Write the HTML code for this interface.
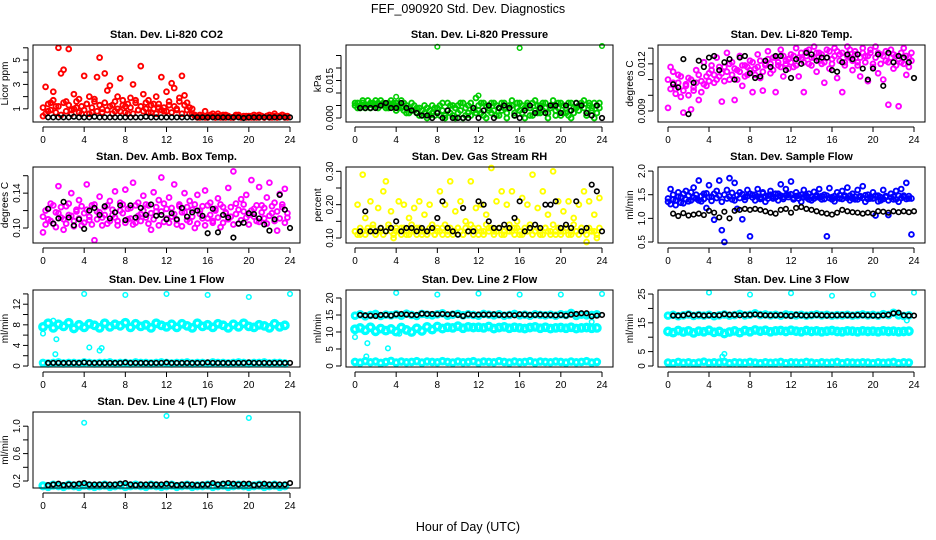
<!DOCTYPE html>
<html><head><meta charset="utf-8"><style>
html,body{margin:0;padding:0;background:#fff;}
svg{display:block;font-family:"Liberation Sans",sans-serif;}
</style></head><body>
<svg id="chart" width="936" height="540" viewBox="0 0 936 540" xmlns="http://www.w3.org/2000/svg">
<rect x="0" y="0" width="936" height="540" fill="#fff"/>
<text x="468" y="13" text-anchor="middle" font-size="12.5">FEF_090920  Std. Dev. Diagnostics</text>
<text x="468" y="531" text-anchor="middle" font-size="12.5">Hour of Day (UTC)</text>
</svg>
<script>
const hoursQuarter = Array.from({length:96},(_,i)=>i*0.25);
const hoursHalf = Array.from({length:48},(_,i)=>i*0.5+0.5);
const hoursBand = Array.from({length:48},(_,i)=>i*0.5);
const xTicks = [0,4,8,12,16,20,24];

const co2Main = [0.4,2.8,0.8,1.5,2.4,1.2,6.0,3.9,4.2,1.6,5.9,0.9,2.2,1.1,1.8,0.6,3.7,1.4,2.0,0.7,1.6,3.6,5.2,1.0,3.9,2.5,2.9,1.3,0.8,2.0,3.5,1.7,1.2,0.6,1.9,3.0,1.5,0.9,4.5,2.2,1.0,1.7,0.7,1.4,2.0,1.1,3.6,0.8,2.4,1.3,3.1,2.7,0.9,1.6,3.7,2.1,1.5,0.6,1.0,0.4,0.3,0.5,0.4,0.8,0.3,0.4,0.6,0.3,0.4,0.3,0.5,0.3,0.4,0.3,0.3,0.5,0.4,0.3,0.3,0.4,0.3,0.4,0.3,0.3,0.5,0.4,0.3,0.4,0.3,0.4,0.6,0.3,0.4,0.5,0.4,0.3];
const co2Extra = [1.1,0.6,1.4,0.9,1.7,0.7,1.2,0.5,1.5,0.8,1.3,0.6,1.0,1.6,0.7,1.2,0.9,1.4,0.6,1.1,1.8,0.8,1.3,0.7,1.5,0.9,1.2,0.6,1.6,1.0,0.8,1.3,0.7,1.4,1.1,0.6,1.7,0.9,1.2,0.8,1.5,0.7,1.3,1.0,0.6,1.4,0.9,1.1,0.8,1.6,0.7,1.2,1.0,1.9,0.6,1.3,0.9,1.1,0.6,0.5,0.4,0.3,0.4,0.3,0.3,0.5,0.4,0.3,0.6,0.4,0.3,0.5,0.4,0.3,0.3,0.4,0.5,0.3,0.4,0.3,0.4,0.3,0.5,0.4,0.3,0.4,0.3,0.4,0.5,0.3,0.4,0.3,0.4,0.5,0.3,0.4];
const co2Black = [0.3,0.3,0.3,0.3,0.3,0.35,0.3,0.3,0.3,0.35,0.3,0.3,0.3,0.3,0.3,0.3,0.3,0.3,0.3,0.35,0.3,0.3,0.3,0.3,0.3,0.3,0.3,0.3,0.3,0.3,0.3,0.3,0.3,0.3,0.3,0.3,0.3,0.3,0.25,0.3,0.3,0.3,0.3,0.3,0.3,0.3,0.3,0.3];

const presMain = [0.005,0.006,0.004,0.006,0.005,0.007,0.004,0.006,0.005,0.006,0.007,0.005,0.004,0.006,0.007,0.005,0.006,0.004,0.007,0.003,0.005,0.002,0.006,0.003,0.002,0.004,0.001,0.005,0.000,0.003,0.005,0.001,0.004,0.001,0.006,0.000,0.003,0.005,0.001,0.004,0.002,0.006,0.000,0.004,0.005,0.001,0.003,0.008,0.005,0.002,0.006,0.000,0.004,0.006,0.003,0.005,0.001,0.006,0.004,0.000,0.005,0.007,0.002,0.006,0.003,0.005,0.000,0.006,0.004,0.001,0.007,0.005,0.002,0.006,0.004,0.000,0.005,0.007,0.003,0.006,0.001,0.005,0.002,0.006,0.000,0.004,0.006,0.003,0.005,0.007,0.002,0.006,0.004,0.000,0.005,0.006];
const presExtra = [0.006,0.004,0.005,0.007,0.004,0.005,0.006,0.005,0.007,0.004,0.005,0.006,0.005,0.004,0.005,0.006,0.003,0.005,0.004,0.006,0.002,0.004,0.003,0.005,0.004,0.001,0.003,0.002,0.004,0.001,0.002,0.004,0.002,0.005,0.003,0.001,0.006,0.002,0.005,0.000,0.005,0.003,0.006,0.001,0.002,0.006,0.004,0.002,0.003,0.006,0.001,0.005,0.003,0.002,0.006,0.001,0.004,0.003,0.006,0.002,0.004,0.005,0.001,0.004,0.006,0.002,0.004,0.005,0.001,0.006,0.003,0.002,0.005,0.003,0.006,0.002,0.004,0.005,0.001,0.004,0.006,0.002,0.004,0.001,0.006,0.002,0.004,0.005,0.006,0.004,0.001,0.005,0.003,0.006,0.002,0.004];
const presBlack = [0.004,0.004,0.004,0.004,0.005,0.006,0.004,0.004,0.006,0.004,0.003,0.002,0.001,0.001,0.000,0.002,0.000,0.003,0.000,0.000,0.000,0.000,0.004,0.000,0.003,0.005,0.000,0.004,0.005,0.004,0.001,0.000,0.003,0.005,0.002,0.004,0.002,0.005,0.005,0.002,0.005,0.003,0.006,0.005,0.002,0.001,0.005,0.000];
const presOutHours = [4,8,12,16,24];
const presOutValues = [0.0085,0.0285,0.009,0.028,0.0288];

const tempMain = [0.0092,0.0118,0.0108,0.0104,0.0113,0.0099,0.0089,0.0107,0.0111,0.0091,0.0103,0.0116,0.0097,0.0109,0.0121,0.0106,0.0114,0.0119,0.0108,0.0124,0.0112,0.0096,0.0118,0.0127,0.0110,0.0121,0.0097,0.0116,0.0125,0.0106,0.0119,0.0113,0.0122,0.0102,0.0117,0.0126,0.0111,0.0103,0.0120,0.0128,0.0114,0.0124,0.0102,0.0119,0.0129,0.0112,0.0122,0.0117,0.0126,0.0118,0.0130,0.0112,0.0123,0.0102,0.0128,0.0120,0.0124,0.0131,0.0115,0.0127,0.0120,0.0108,0.0129,0.0117,0.0123,0.0130,0.0111,0.0126,0.0102,0.0119,0.0131,0.0124,0.0116,0.0128,0.0121,0.0112,0.0130,0.0125,0.0109,0.0127,0.0120,0.0131,0.0114,0.0126,0.0110,0.0122,0.0094,0.0129,0.0117,0.0125,0.0093,0.0121,0.0130,0.0113,0.0124,0.0127];
const tempExtra = [0.0110,0.0104,0.0115,0.0101,0.0108,0.0112,0.0103,0.0106,0.0100,0.0110,0.0105,0.0108,0.0113,0.0102,0.0107,0.0112,0.0109,0.0116,0.0113,0.0110,0.0118,0.0114,0.0109,0.0115,0.0120,0.0113,0.0117,0.0110,0.0115,0.0119,0.0112,0.0118,0.0116,0.0121,0.0113,0.0118,0.0122,0.0115,0.0119,0.0123,0.0120,0.0116,0.0124,0.0121,0.0118,0.0125,0.0120,0.0123,0.0121,0.0125,0.0119,0.0124,0.0127,0.0121,0.0125,0.0129,0.0119,0.0124,0.0127,0.0122,0.0126,0.0121,0.0124,0.0128,0.0120,0.0125,0.0128,0.0122,0.0127,0.0121,0.0125,0.0129,0.0122,0.0126,0.0119,0.0124,0.0127,0.0121,0.0125,0.0129,0.0118,0.0124,0.0127,0.0120,0.0125,0.0128,0.0121,0.0124,0.0126,0.0119,0.0123,0.0127,0.0120,0.0125,0.0118,0.0122];
const tempBlack = [0.0107,0.0105,0.0123,0.0088,0.0108,0.0122,0.0118,0.0124,0.0125,0.0116,0.0121,0.0123,0.0110,0.0124,0.0125,0.0114,0.0111,0.0112,0.0122,0.0118,0.0125,0.0125,0.0116,0.0111,0.0123,0.0120,0.0127,0.0126,0.0122,0.0124,0.0124,0.0116,0.0115,0.0121,0.0126,0.0123,0.0126,0.0117,0.0110,0.0117,0.0126,0.0106,0.0127,0.0121,0.0125,0.0124,0.0121,0.0111];

const boxMain = [0.095,0.120,0.110,0.128,0.105,0.118,0.148,0.112,0.098,0.125,0.115,0.140,0.108,0.121,0.132,0.103,0.117,0.150,0.109,0.126,0.086,0.119,0.136,0.112,0.124,0.105,0.131,0.115,0.142,0.108,0.120,0.127,0.144,0.110,0.123,0.152,0.106,0.129,0.116,0.137,0.112,0.126,0.098,0.141,0.119,0.132,0.158,0.107,0.122,0.135,0.113,0.150,0.104,0.127,0.118,0.140,0.109,0.131,0.121,0.100,0.138,0.116,0.125,0.143,0.111,0.129,0.106,0.120,0.134,0.101,0.124,0.117,0.146,0.113,0.165,0.128,0.105,0.133,0.119,0.138,0.115,0.155,0.122,0.108,0.147,0.126,0.111,0.135,0.152,0.117,0.129,0.097,0.139,0.124,0.145,0.112];
const boxExtra = [0.113,0.104,0.122,0.108,0.126,0.101,0.117,0.124,0.110,0.105,0.128,0.114,0.102,0.119,0.111,0.125,0.106,0.121,0.113,0.104,0.127,0.110,0.118,0.103,0.115,0.126,0.108,0.121,0.112,0.103,0.129,0.117,0.106,0.122,0.111,0.104,0.126,0.114,0.108,0.120,0.127,0.105,0.117,0.110,0.124,0.103,0.119,0.128,0.111,0.106,0.123,0.116,0.109,0.125,0.102,0.118,0.124,0.107,0.113,0.127,0.105,0.120,0.111,0.103,0.126,0.115,0.108,0.122,0.112,0.127,0.106,0.118,0.110,0.124,0.104,0.116,0.121,0.109,0.127,0.112,0.104,0.120,0.113,0.126,0.107,0.118,0.123,0.105,0.114,0.125,0.108,0.119,0.111,0.127,0.106,0.117];
const boxBlack = [0.122,0.105,0.111,0.130,0.112,0.103,0.110,0.099,0.120,0.123,0.115,0.125,0.111,0.118,0.126,0.109,0.126,0.112,0.123,0.115,0.127,0.114,0.115,0.110,0.117,0.110,0.123,0.113,0.118,0.120,0.114,0.094,0.122,0.095,0.115,0.112,0.089,0.105,0.106,0.117,0.116,0.111,0.104,0.097,0.110,0.138,0.121,0.100];

const rhMain = [0.12,0.20,0.11,0.29,0.16,0.12,0.21,0.13,0.11,0.19,0.12,0.24,0.27,0.13,0.18,0.10,0.12,0.21,0.13,0.20,0.11,0.16,0.12,0.19,0.13,0.21,0.11,0.17,0.12,0.20,0.14,0.11,0.12,0.24,0.13,0.20,0.11,0.27,0.12,0.18,0.13,0.21,0.11,0.15,0.12,0.27,0.13,0.19,0.11,0.20,0.12,0.17,0.13,0.31,0.12,0.21,0.13,0.24,0.11,0.20,0.12,0.24,0.13,0.15,0.11,0.22,0.12,0.20,0.13,0.29,0.12,0.19,0.11,0.24,0.13,0.17,0.12,0.30,0.11,0.21,0.12,0.18,0.13,0.21,0.11,0.16,0.12,0.20,0.13,0.24,0.08,0.21,0.12,0.17,0.10,0.22];
const rhExtra = [0.12,0.11,0.13,0.12,0.11,0.13,0.12,0.14,0.11,0.12,0.13,0.11,0.12,0.14,0.12,0.11,0.13,0.12,0.11,0.13,0.12,0.11,0.14,0.12,0.11,0.13,0.12,0.12,0.11,0.13,0.12,0.11,0.13,0.12,0.11,0.14,0.12,0.13,0.11,0.12,0.13,0.12,0.11,0.13,0.12,0.14,0.11,0.12,0.13,0.12,0.11,0.14,0.12,0.13,0.11,0.12,0.13,0.11,0.12,0.13,0.14,0.12,0.11,0.13,0.12,0.11,0.13,0.12,0.14,0.11,0.12,0.13,0.12,0.11,0.13,0.12,0.11,0.14,0.12,0.13,0.11,0.12,0.13,0.11,0.12,0.14,0.12,0.11,0.13,0.12,0.11,0.13,0.12,0.12,0.11,0.13];
const rhBlack = [0.12,0.18,0.12,0.12,0.13,0.12,0.13,0.15,0.12,0.13,0.13,0.12,0.13,0.12,0.13,0.16,0.21,0.13,0.12,0.11,0.19,0.12,0.12,0.21,0.20,0.15,0.13,0.13,0.14,0.13,0.16,0.21,0.12,0.13,0.14,0.13,0.20,0.20,0.21,0.13,0.14,0.13,0.21,0.12,0.13,0.26,0.24,0.12];

const flowMain = [1.35,1.62,1.40,1.28,1.55,1.45,1.32,1.58,1.48,1.38,1.65,1.42,1.80,1.36,1.52,1.22,1.70,1.46,0.97,1.58,1.80,0.75,0.45,1.60,1.85,1.40,1.75,1.20,1.55,0.98,1.45,1.60,0.62,1.50,1.38,1.62,1.44,1.55,1.35,1.48,1.58,1.42,1.52,1.38,1.72,1.45,1.62,1.50,1.78,1.40,1.55,1.48,1.35,1.60,1.44,1.52,1.38,1.56,1.46,1.62,1.40,1.50,0.62,1.64,1.45,1.36,1.55,1.42,1.58,1.48,1.65,1.38,1.52,1.40,1.60,1.45,1.68,1.35,1.50,1.42,1.55,1.06,1.48,1.38,1.60,1.45,1.07,1.52,1.40,1.58,1.35,1.62,1.48,1.75,1.42,0.66];
const flowExtra = [1.42,1.30,1.50,1.38,1.46,1.33,1.52,1.40,1.36,1.55,1.44,1.50,1.38,1.47,1.41,1.53,1.45,1.37,1.52,1.43,1.48,1.35,1.50,1.42,1.46,1.54,1.38,1.49,1.43,1.51,1.39,1.47,1.52,1.44,1.50,1.46,1.41,1.53,1.47,1.42,1.50,1.46,1.44,1.52,1.48,1.41,1.49,1.45,1.51,1.43,1.47,1.42,1.50,1.45,1.48,1.40,1.46,1.42,1.49,1.44,1.47,1.41,1.48,1.43,1.40,1.47,1.43,1.49,1.41,1.46,1.43,1.48,1.42,1.46,1.40,1.47,1.43,1.49,1.41,1.45,1.42,1.48,1.36,1.45,1.41,1.47,1.38,1.44,1.46,1.40,1.48,1.43,1.45,1.41,1.47,1.42];
const flowBlack = [1.10,1.05,1.11,1.06,1.08,1.10,1.07,1.16,1.12,1.02,1.14,1.00,1.16,1.18,1.20,1.18,1.20,1.18,1.15,1.12,1.10,1.18,1.20,1.12,1.22,1.24,1.20,1.18,1.15,1.12,1.10,1.08,1.12,1.18,1.15,1.13,1.12,1.10,1.12,1.10,1.15,1.14,1.12,1.15,1.13,1.15,1.13,1.15];

const line1Band = [7.6,8.3,7.4,8.1,7.7,8.4,7.3,8.0,7.5,8.2,7.9,7.4,8.3,7.6,8.1,7.8,8.4,7.5,8.2,7.7,8.0,7.4,8.3,7.9,7.6,8.1,7.5,8.2,7.8,7.4,8.3,7.7,8.0,7.5,8.2,7.9,7.4,8.1,7.6,8.3,7.7,7.5,8.0,7.8,7.4,8.2,7.6,7.9];
const line1Low = [0.6,0.5,0.6,0.7,0.5,0.6,0.6,0.5,0.7,0.6,0.5,0.6,0.6,0.7,0.5,0.6,0.6,0.5,0.7,0.6,0.6,0.5,0.6,0.7,0.6,0.5,0.6,0.6,0.7,0.5,0.6,0.6,0.5,0.7,0.6,0.6,0.5,0.6,0.7,0.6,0.5,0.6,0.6,0.7,0.5,0.6,0.6,0.5];
const line1Black = [0.6,0.6,0.6,0.6,0.6,0.6,0.6,0.7,0.6,0.6,0.6,0.6,0.6,0.6,0.6,0.7,0.6,0.6,0.6,0.6,0.6,0.6,0.6,0.7,0.6,0.6,0.6,0.6,0.6,0.6,0.6,0.7,0.6,0.6,0.6,0.6,0.6,0.6,0.6,0.7,0.6,0.6,0.6,0.6,0.6,0.6,0.6,0.6];
const line1OutHours = [0,1,1.2,1.3,4,4.5,5.5,5.7,8,12,16,20,24];
const line1OutValues = [6.3,8.8,2.3,5.2,14,3.6,3.0,3.5,13.8,14,13.8,13.4,14];

const line2Band = [10.8,11.2,10.5,11.4,10.2,11.0,10.4,10.9,10.1,11.3,10.6,10.0,11.1,10.3,11.5,10.7,11.6,11.0,11.4,11.2,11.7,11.1,11.5,11.3,11.4,11.2,11.6,11.0,11.3,11.5,11.1,11.4,11.2,11.0,11.3,11.5,11.1,11.4,11.0,11.2,11.3,11.1,11.4,11.0,11.2,11.3,11.1,11.2];
const line2Low = [1.2,1.0,1.4,1.1,1.3,0.9,1.2,1.5,1.0,1.3,1.1,1.2,1.4,1.0,1.3,1.2,1.1,1.4,1.2,1.0,1.3,1.1,1.2,1.4,1.0,1.3,1.2,1.1,1.4,1.2,1.0,1.3,1.1,1.2,1.4,1.0,1.3,1.2,1.1,1.3,1.2,1.0,1.3,1.1,1.2,1.4,1.0,1.2];
const line2High = [14.8,15.2,14.6,15.0,15.3,14.7,15.1,14.9,15.2,14.8,15.4,15.0,14.7,15.3,15.1,14.9,15.2,15.5,14.8,15.1,15.3,14.9,15.2,15.0,14.8,15.3,15.1,14.9,15.2,14.8,15.0,15.3,14.9,15.1,14.8,15.2,15.0,14.9,15.1,14.8,15.2,15.0,15.6,14.7,15.1,14.9,15.0,15.2];
const line2Black = [15.0,14.9,14.8,14.7,15.0,15.0,14.8,15.2,15.3,15.1,15.0,15.0,15.4,15.3,15.3,15.2,15.3,15.2,15.3,15.0,14.7,15.2,15.0,15.1,15.1,15.1,15.2,15.0,15.0,15.1,14.9,15.2,15.1,15.0,15.0,15.1,15.0,15.0,14.9,15.0,14.8,15.1,15.3,15.5,15.5,14.6,14.8,15.0];
const line2OutHours = [0,1.2,1.1,3.2,4,4.3,8,12,16,20,23,24];
const line2OutValues = [8.5,6.7,2.8,5.2,21.5,9.5,21,21.3,21,21,13,21.2];

const line3Band = [12.0,11.6,12.3,11.8,12.2,11.5,12.1,11.9,12.4,11.7,12.0,11.3,11.8,12.2,11.6,12.3,11.9,12.5,12.1,12.4,11.9,12.2,12.3,12.0,12.4,12.1,11.9,12.3,12.0,12.2,11.9,12.1,12.3,12.0,11.9,12.2,12.1,11.9,12.2,12.0,12.1,11.9,12.2,12.0,12.1,11.9,12.0,12.1];
const line3Low = [1.2,1.0,1.4,1.1,1.3,1.0,1.2,1.5,1.1,1.3,1.2,1.4,1.0,1.3,1.2,1.1,1.4,1.2,1.0,1.3,1.1,1.2,1.4,1.0,1.3,1.2,1.1,1.4,1.2,1.0,1.3,1.1,1.2,1.4,1.0,1.3,1.2,1.1,1.3,1.2,1.0,1.3,1.1,1.2,1.4,1.0,1.3,1.2];
const line3High = [17.5,17.8,17.3,17.6,17.9,17.4,17.7,17.5,17.8,17.3,17.6,17.9,17.5,17.7,18.1,17.6,17.8,18.3,17.7,17.9,17.6,17.8,17.5,17.9,17.7,17.6,17.8,17.5,17.7,17.9,17.6,17.8,17.5,17.7,17.6,17.8,17.5,17.7,17.9,17.6,17.8,17.5,18.0,17.7,18.5,17.6,17.4,17.6];
const line3Black = [17.5,17.5,17.6,18.0,17.6,17.8,17.5,17.6,17.7,17.6,18.0,17.8,17.8,17.6,17.8,17.8,17.9,17.8,17.6,17.6,17.6,17.7,17.5,17.4,17.8,17.6,17.5,17.6,17.7,17.6,17.5,17.6,17.6,17.7,17.6,17.6,17.7,17.6,17.6,17.5,17.5,17.6,17.8,18.3,18.5,17.6,17.5,17.5];
const line3OutHours = [4,5.3,5.5,8,12,16,20,23.3,24];
const line3OutValues = [25.5,3.3,4.2,24.8,25.3,24.4,24.8,15.8,25.5];

const line4Band = [0.13,0.12,0.14,0.13,0.12,0.14,0.13,0.12,0.14,0.13,0.12,0.13,0.14,0.12,0.13,0.14,0.12,0.13,0.14,0.13,0.12,0.14,0.13,0.12,0.13,0.14,0.12,0.13,0.14,0.12,0.13,0.13,0.14,0.12,0.13,0.14,0.12,0.13,0.14,0.13,0.12,0.13,0.14,0.12,0.13,0.14,0.12,0.13];
const line4Black = [0.14,0.15,0.16,0.14,0.15,0.15,0.16,0.17,0.15,0.15,0.15,0.15,0.15,0.15,0.16,0.17,0.15,0.14,0.15,0.15,0.15,0.15,0.15,0.16,0.15,0.14,0.15,0.15,0.15,0.14,0.15,0.15,0.17,0.15,0.16,0.17,0.16,0.15,0.16,0.16,0.14,0.15,0.16,0.15,0.15,0.15,0.15,0.17];
const line4OutHours = [4,12,20];
const line4OutValues = [1.05,1.15,1.12];

const NS = "http://www.w3.org/2000/svg";
const svg = document.getElementById('chart');
function mk(tag, attrs, parent){
  const e = document.createElementNS(NS, tag);
  for (const k in attrs) e.setAttribute(k, attrs[k]);
  (parent||svg).appendChild(e);
  return e;
}
const cols = [{l:33,r:300,x0:43,x24:290},{l:346,r:613,x0:355,x24:602},{l:658,r:925,x0:668,x24:914}];
const rows = [{t:45,b:122},{t:167,b:243},{t:290,b:367},{t:412,b:488}];

function makePanel(name, title, ylabel, col, row, ymin, ymax, ticks, labels){
  const c = cols[col], r = rows[row];
  const g = mk('g', {});
  
  
  const xs = h => c.x0 + (c.x24 - c.x0) * h / 24;
  const ys = v => r.b - (v - ymin) / (ymax - ymin) * (r.b - r.t);
  const plotG = mk('g', {}, g);
  
  
  const box = mk('rect', {x:c.l, y:r.t, width:c.r-c.l, height:r.b-r.t, fill:'none', stroke:'#000', 'stroke-width':1}, g);
  
  
  const t = mk('text', {x:(c.l+c.r)/2, y:r.t-7, 'text-anchor':'middle', 'font-size':11, 'font-weight':'bold'}, g);
  t.textContent = title;
  
  
  mk('line', {x1:xs(0), x2:xs(24), y1:r.b+5, y2:r.b+5, stroke:'#000'}, g);
  xTicks.forEach(h => {
    mk('line', {x1:xs(h), x2:xs(h), y1:r.b+5, y2:r.b+10, stroke:'#000'}, g);
    const tl = mk('text', {x:xs(h), y:r.b+21, 'text-anchor':'middle', 'font-size':10}, g);
    tl.textContent = h;
    
    
  });
  const ax = c.l - 5;
  mk('line', {x1:ax, x2:ax, y1:ys(ticks[0]), y2:ys(ticks[ticks.length-1]), stroke:'#000'}, g);
  ticks.forEach((v,i) => {
    mk('line', {x1:ax-5, x2:ax, y1:ys(v), y2:ys(v), stroke:'#000'}, g);
    if (labels[i] !== '') {
      const yl = mk('text', {x:ax-8, y:ys(v), 'text-anchor':'middle', 'font-size':10, transform:`rotate(-90 ${ax-8} ${ys(v)})`}, g);
      yl.textContent = labels[i];
      
      
    }
  });
  const lx = c.l - 25, ly = (r.t + r.b) / 2;
  const yt = mk('text', {x:lx, y:ly, 'text-anchor':'middle', 'font-size':10, transform:`rotate(-90 ${lx} ${ly})`}, g);
  yt.textContent = ylabel;
  
  
  return {
    plot(hours, values, color, rad, sw, seriesName){
      const sg = mk('g', {fill:'none', stroke:color, 'stroke-width':sw}, plotG);
      
      
      values.forEach((v,i) => {
        const cy = Math.max(r.t+1, Math.min(r.b-1, ys(v)));
        const p = mk('circle', {cx:xs(hours[i]), cy:cy, r:rad}, sg);
        
        
      });
    }
  };
}
const RED='#ff0000', GREEN='#00cd00', MAG='#ff00ff', YEL='#ffff00', BLUE='#0000ff', CYAN='#00ffff', BLK='#000';
const CR = 2.4, CW = 1.9;

let p = makePanel('co2-panel','Stan. Dev. Li-820 CO2','Licor ppm',0,0,-0.08,6.23,[1,2,3,4,5,6],['1','','3','','5','']);
p.plot(hoursQuarter, co2Extra, RED, CR, CW, 'co2-series-b');
p.plot(hoursQuarter, co2Main, RED, CR, CW, 'co2-series');
p.plot(hoursHalf, co2Black, BLK, 2.3, 1.6, 'co2-reference');

p = makePanel('pressure-panel','Stan. Dev. Li-820 Pressure','kPa',1,0,-0.0016,0.0292,[0,0.005,0.01,0.015,0.02,0.025],['0.000','','','0.015','','']);
p.plot(hoursQuarter, presExtra, GREEN, CR, CW, 'pressure-series-b');
p.plot(hoursQuarter, presMain, GREEN, CR, CW, 'pressure-series');
p.plot(presOutHours, presOutValues, GREEN, 2.3, 1.5, 'pressure-outliers');
p.plot(hoursHalf, presBlack, BLK, 2.3, 1.6, 'pressure-reference');

p = makePanel('temp-panel','Stan. Dev. Li-820 Temp.','degrees C',2,0,0.0083,0.0132,[0.009,0.010,0.011,0.012,0.013],['0.009','','','0.012','']);
p.plot(hoursQuarter, tempExtra, MAG, CR, CW, 'temp-series-b');
p.plot(hoursQuarter, tempMain, MAG, CR, CW, 'temp-series');
p.plot(hoursHalf, tempBlack, BLK, 2.3, 1.6, 'temp-reference');

p = makePanel('box-temp-panel','Stan. Dev. Amb. Box Temp.','degrees C',0,1,0.0828,0.170,[0.10,0.12,0.14,0.16],['0.10','','0.14','']);
p.plot(hoursQuarter, boxExtra, MAG, CR, CW, 'box-temp-series-b');
p.plot(hoursQuarter, boxMain, MAG, CR, CW, 'box-temp-series');
p.plot(hoursHalf, boxBlack, BLK, 2.3, 1.6, 'box-temp-reference');

p = makePanel('rh-panel','Stan. Dev. Gas Stream RH','percent',1,1,0.085,0.313,[0.10,0.15,0.20,0.25,0.30],['0.10','','0.20','','0.30']);
p.plot(hoursQuarter, rhExtra, YEL, CR, CW, 'rh-series-b');
p.plot(hoursQuarter, rhMain, YEL, CR, CW, 'rh-series');
p.plot(hoursHalf, rhBlack, BLK, 2.3, 1.6, 'rh-reference');

p = makePanel('sample-flow-panel','Stan. Dev. Sample Flow','ml/min',2,1,0.479,2.086,[0.5,1.0,1.5,2.0],['0.5','1.0','1.5','2.0']);
p.plot(hoursQuarter, flowExtra, BLUE, CR, CW, 'sample-flow-series-b');
p.plot(hoursQuarter, flowMain, BLUE, CR, CW, 'sample-flow-series');
p.plot(hoursHalf, flowBlack, BLK, 2.3, 1.6, 'sample-flow-reference');

p = makePanel('line1-panel','Stan. Dev. Line 1 Flow','ml/min',0,2,-0.19,14.76,[0,2,4,6,8,10,12,14],['0','','4','','8','','12','']);
p.plot(hoursBand, line1Band, CYAN, 3.2, 3.4, 'line1-band');
p.plot(hoursBand, line1Low, CYAN, 2.8, 3.0, 'line1-low');
p.plot(line1OutHours, line1OutValues, CYAN, 2.3, 1.5, 'line1-outliers');
p.plot(hoursHalf, line1Black, BLK, 2.3, 1.6, 'line1-reference');

p = makePanel('line2-panel','Stan. Dev. Line 2 Flow','ml/min',1,2,-0.3,22.35,[0,5,10,15,20],['0','5','10','15','20']);
p.plot(hoursBand, line2Band, CYAN, 3.2, 3.4, 'line2-mid-band');
p.plot(hoursBand, line2Low, CYAN, 2.8, 3.0, 'line2-low');
p.plot(hoursBand, line2High, CYAN, 2.8, 3.0, 'line2-high');
p.plot(line2OutHours, line2OutValues, CYAN, 2.3, 1.5, 'line2-outliers');
p.plot(hoursHalf, line2Black, BLK, 2.3, 1.6, 'line2-reference');

p = makePanel('line3-panel','Stan. Dev. Line 3 Flow','ml/min',2,2,-0.35,26.4,[0,5,10,15,20,25],['0','5','','15','','25']);
p.plot(hoursBand, line3Band, CYAN, 3.2, 3.4, 'line3-mid-band');
p.plot(hoursBand, line3Low, CYAN, 2.8, 3.0, 'line3-low');
p.plot(hoursBand, line3High, CYAN, 2.8, 3.0, 'line3-high');
p.plot(line3OutHours, line3OutValues, CYAN, 2.3, 1.5, 'line3-outliers');
p.plot(hoursHalf, line3Black, BLK, 2.3, 1.6, 'line3-reference');

p = makePanel('line4-panel','Stan. Dev. Line 4 (LT) Flow','ml/min',0,3,0.098,1.207,[0.2,0.4,0.6,0.8,1.0],['0.2','','0.6','','1.0']);
p.plot(hoursBand, line4Band, CYAN, 3.0, 3.2, 'line4-band');
p.plot(line4OutHours, line4OutValues, CYAN, 2.3, 1.5, 'line4-outliers');
p.plot(hoursHalf, line4Black, BLK, 2.3, 1.6, 'line4-reference');
</script>
</body></html>
